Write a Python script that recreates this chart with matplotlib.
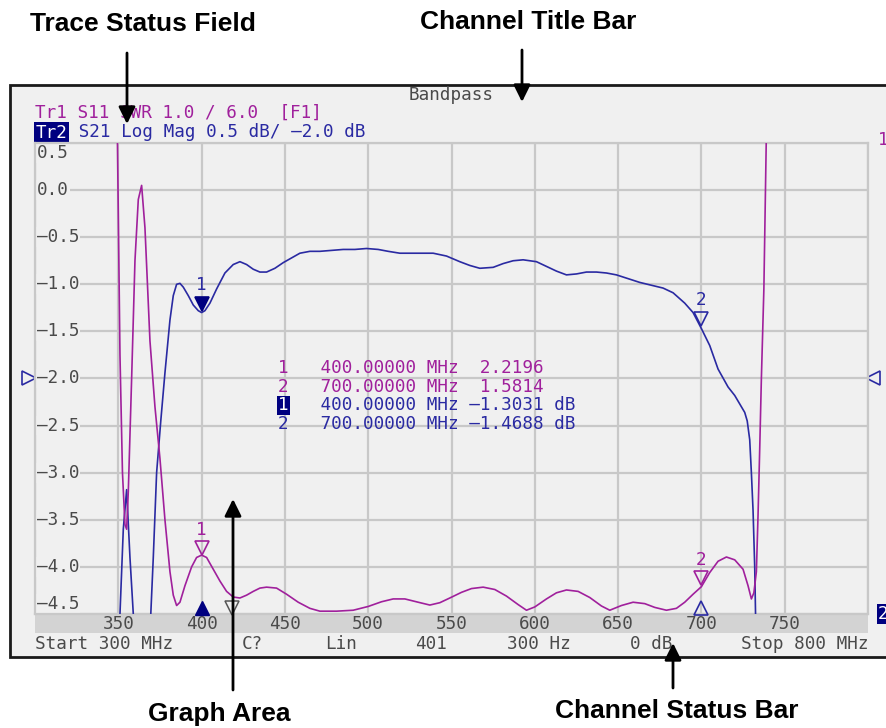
import numpy as np
import matplotlib
matplotlib.use("Agg")
import matplotlib.pyplot as plt
from matplotlib import transforms
from matplotlib.patches import Rectangle

# ---- trace data ----
s21_freq = [300, 340, 349, 351, 353, 355, 357, 359, 362, 366, 369.5, 371, 373, 375.5, 378,
            381, 383, 385, 387, 389, 392, 395, 398, 400, 402, 405, 409, 414, 419, 423, 427,
            431, 435, 439, 444, 449, 454, 459, 465, 471, 478, 485, 492, 499, 506, 512, 519,
            526, 533, 539, 547, 555, 561, 567, 575, 581, 587, 593, 601, 607, 613, 619, 625,
            631, 637, 643, 649, 656, 663, 670, 677, 683, 690, 695, 700, 705, 710, 716, 720,
            723, 726, 727.5, 729, 730, 731, 732, 733, 735, 750, 800]
s21_db = [-6.0, -6.0, -5.5, -4.5, -3.6, -3.18, -3.9, -4.5, -5.5, -5.2, -4.5, -3.9, -3.0, -2.45, -1.94,
          -1.38, -1.12, -1.0, -0.99, -1.03, -1.12, -1.22, -1.28, -1.30, -1.28, -1.20, -1.05, -0.88, -0.79, -0.76, -0.79,
          -0.84, -0.87, -0.87, -0.83, -0.77, -0.72, -0.67, -0.65, -0.65, -0.64, -0.63, -0.63, -0.62, -0.63, -0.65, -0.67,
          -0.67, -0.67, -0.67, -0.70, -0.76, -0.80, -0.83, -0.82, -0.78, -0.75, -0.74, -0.76, -0.81, -0.86, -0.90, -0.89,
          -0.87, -0.87, -0.88, -0.90, -0.94, -0.98, -1.01, -1.04, -1.09, -1.20, -1.30, -1.47, -1.65, -1.90, -2.09, -2.18,
          -2.27, -2.36, -2.45, -2.65, -3.0, -3.4, -4.0, -5.0, -6.0, -6.0, -6.0]

s11_freq = [300, 340, 348, 349.5, 351, 352.5, 354, 355, 356, 358, 360, 362, 364, 366, 369, 372,
            375, 378, 381, 383, 385, 387, 390, 394, 397, 400, 403, 407, 411, 415, 419, 423,
            427, 431, 435, 439, 445, 451, 458, 465, 471, 481, 491, 500, 508, 515, 522, 530,
            537, 543, 549, 556, 562, 569, 576, 583, 590, 595, 600, 607, 613, 619, 626, 633,
            640, 645, 652, 659, 666, 672, 679, 685, 690, 695, 700, 705, 710, 715, 720, 725,
            728, 730, 731.5, 733, 734, 735, 736, 737.5, 739, 742, 800]
s11_swr = [20, 20, 13, 11, 6.5, 4.0, 2.9, 2.8, 3.6, 6.0, 8.5, 9.8, 10.1, 9.2, 6.8, 5.4,
           4.3, 3.0, 1.9, 1.4, 1.18, 1.25, 1.6, 2.0, 2.2, 2.25, 2.2, 1.95, 1.7, 1.48, 1.36, 1.34,
           1.40, 1.48, 1.55, 1.57, 1.55, 1.42, 1.25, 1.12, 1.06, 1.06, 1.08, 1.16, 1.26, 1.32, 1.32, 1.25,
           1.19, 1.24, 1.34, 1.46, 1.54, 1.57, 1.52, 1.38, 1.20, 1.08, 1.15, 1.32, 1.45, 1.51, 1.48, 1.35,
           1.17, 1.08, 1.18, 1.25, 1.22, 1.14, 1.08, 1.12, 1.25, 1.42, 1.58, 1.88, 2.12, 2.21, 2.15, 1.95,
           1.6, 1.32, 1.45, 1.9, 3.1, 4.5, 6.0, 7.9, 11.2, 16, 20]

marker_freq = [400, 700]
s11_marker = [2.2196, 1.5814]
s21_marker = [-1.3031, -1.4688]
stim_mark = 418

x_ticks = [350, 400, 450, 500, 550, 600, 650, 700, 750]
y_ticks = [0.5, 0.0, -0.5, -1.0, -1.5, -2.0, -2.5, -3.0, -3.5, -4.0, -4.5]
ref_level = -2.0

table_rows = ["1   400.00000 MHz  2.2196",
              "2   700.00000 MHz  1.5814",
              "    400.00000 MHz -1.3031 dB",
              "2   700.00000 MHz -1.4688 dB"]

status_items = [(35, "Start 300 MHz"), (242, "C?"), (325, "Lin"), (415, "401"),
                (507, "300 Hz"), (630, "0 dB"), (741, "Stop 800 MHz")]

# ---- look ----
W, H = 886, 728
PANEL = "#f0f0f0"
GRID = "#c8c8c8"
MAG = "#a0209c"
BLUE = "#2a2aa2"
NAVY = "#000080"
GRAYTXT = "#4a4a4a"
MONO = "DejaVu Sans Mono"
FS = 12.7
CW = FS * 100 / 72 * 0.602  # char width in px
plt.rcParams["font.family"] = [MONO, "DejaVu Sans"]

fig = plt.figure(figsize=(W / 100, H / 100), dpi=100)

# background layer in pixel coordinates
bg = fig.add_axes([0, 0, 1, 1], zorder=0)
bg.set_xlim(0, W)
bg.set_ylim(H, 0)
bg.axis("off")
bg.add_patch(Rectangle((10, 85), 900, 572, facecolor=PANEL, edgecolor="#1a1a1a", lw=2))

# graph area
L, R, T, B = 35, 868, 143, 614
ax = fig.add_axes([L / W, (H - B) / H, (R - L) / W, (B - T) / H], zorder=1)
ax.set_facecolor(PANEL)
ax.set_xlim(300, 800)
ax.set_ylim(-4.5, 0.5)
ax.set_xticks(np.arange(300, 801, 50))
ax.set_yticks(y_ticks)
ax.tick_params(length=0, labelbottom=False, labelleft=False)
ax.grid(True, color=GRID, lw=1.6)
for sp in ax.spines.values():
    sp.set_color(GRID)
    sp.set_linewidth(1.6)

ax2 = ax.twinx()
ax2.set_ylim(1, 11)
ax2.set_yticks([])
for sp in ax2.spines.values():
    sp.set_visible(False)

# y tick labels inside the graph
lab_tr = transforms.blended_transform_factory(ax.transAxes, ax.transData)
for v in y_ticks:
    dy = 0
    if v == y_ticks[0]:
        dy = -10
    elif v == y_ticks[-1]:
        dy = 10
    ax.annotate(f"{v:.1f}".replace("-", "\u2013"), xy=(0, v), xycoords=lab_tr,
                xytext=(2, dy), textcoords="offset pixels", ha="left", va="center",
                fontsize=FS, color=GRAYTXT, zorder=2.5,
                bbox=dict(facecolor=PANEL, edgecolor="none", pad=0.6))

ax.plot(s21_freq, s21_db, color=BLUE, lw=1.2, zorder=3)
ax2.plot(s11_freq, s11_swr, color=MAG, lw=1.2, zorder=3)

# markers on the traces
def up(a, px):
    return transforms.offset_copy(a.transData, fig=fig, x=0, y=px, units="dots")

for i, (f, v) in enumerate(zip(marker_freq, s21_marker)):
    face = NAVY if i == 0 else "none"
    ax.plot([f], [v], marker="v", ms=10.5, mfc=face, mec=NAVY if i == 0 else BLUE, mew=1.2,
            transform=up(ax, 9), zorder=4)
    ax.annotate(str(i + 1), xy=(f, v), xytext=(0, 28), textcoords="offset pixels",
                ha="center", va="center", fontsize=FS, color=BLUE)
for i, (f, v) in enumerate(zip(marker_freq, s11_marker)):
    ax2.plot([f], [v], marker="v", ms=10.5, mfc="none", mec=MAG, mew=1.2,
             transform=up(ax2, 9), zorder=4)
    ax2.annotate(str(i + 1), xy=(f, v), xytext=(0, 27), textcoords="offset pixels",
                 ha="center", va="center", fontsize=FS, color=MAG)

# marker position indicators on the bottom edge
bot = transforms.blended_transform_factory(ax.transData, ax.transAxes)
bot_up = transforms.offset_copy(bot, fig=fig, x=0, y=6, units="dots")
ax.plot([marker_freq[0]], [0], marker="^", ms=10, mfc=NAVY, mec=NAVY, transform=bot_up,
        clip_on=False, zorder=5)
ax.plot([marker_freq[1]], [0], marker="^", ms=10, mfc="none", mec=BLUE, mew=1.2,
        transform=bot_up, clip_on=False, zorder=5)
ax.plot([stim_mark], [0], marker="v", ms=10, mfc="none", mec="#555555", mew=1.1,
        transform=bot_up, clip_on=False, zorder=5)

# x label bar
bar_tr = transforms.blended_transform_factory(ax.transAxes, bg.transData)
bg.add_patch(Rectangle((0, 614), 1, 19, transform=bar_tr, facecolor="#d3d3d3", edgecolor="none"))
xlab_tr = transforms.blended_transform_factory(ax.transData, bg.transData)
for f in x_ticks:
    bg.text(f, 624, str(f), transform=xlab_tr, ha="center", va="center",
            fontsize=FS, color=GRAYTXT)

# reference level arrows
ref_l = transforms.blended_transform_factory(bg.transData, ax.transData)
bg.plot([29], [ref_level], marker=">", ms=10, mfc="none", mec=BLUE, mew=1.2, transform=ref_l,
        clip_on=False)
bg.plot([873], [ref_level], marker="<", ms=10, mfc="none", mec=BLUE, mew=1.2, transform=ref_l,
        clip_on=False)

# header lines
bg.text(451, 95, "Bandpass", ha="center", va="center", fontsize=FS, color=GRAYTXT)
bg.text(35, 113, "Tr1 S11 SWR 1.0 / 6.0  [F1]", ha="left", va="center", fontsize=FS, color=MAG)
bg.text(36, 133, "Tr2", ha="left", va="center", fontsize=FS, color="white",
        bbox=dict(facecolor=NAVY, edgecolor="none", pad=1.2))
bg.text(36 + 3 * CW, 132, " S21 Log Mag 0.5 dB/ \u20132.0 dB", ha="left", va="center",
        fontsize=FS, color=BLUE)
bg.text(878, 140, "1", ha="left", va="center", fontsize=FS, color=MAG)
bg.text(878, 614, "2", ha="left", va="center", fontsize=FS, color="white",
        bbox=dict(facecolor=NAVY, edgecolor="none", pad=1.0))

# status bar
for x, s in status_items:
    bg.text(x, 644, s, ha="left", va="center", fontsize=FS, color=GRAYTXT)

# overlay layer: marker table and call-outs
over = fig.add_axes([0, 0, 1, 1], zorder=10)
over.set_xlim(0, W)
over.set_ylim(H, 0)
over.axis("off")

row_cols = [MAG, MAG, BLUE, BLUE]
for k, (row, c) in enumerate(zip(table_rows, row_cols)):
    over.text(278, 368 + k * 18.7, row.replace("-", "\u2013"), ha="left", va="center",
              fontsize=FS, color=c)
over.text(278, 405.5, "1", ha="left", va="center", fontsize=FS, color="white",
          bbox=dict(facecolor=NAVY, edgecolor="none", pad=0.6))

callouts = [("Trace Status Field", 30, 24, 127, 53, 124),
            ("Channel Title Bar", 420, 22, 522, 50, 102),
            ("Graph Area", 148, 714, 233, 690, 499),
            ("Channel Status Bar", 555, 711, 673, 688, 643)]
for name, tx, ty, ax_x, y0, y1 in callouts:
    over.text(tx, ty, name, ha="left", va="center", fontsize=19, fontweight="bold",
              family=["Liberation Sans", "DejaVu Sans"], color="black")
    over.annotate("", xy=(ax_x, y1), xytext=(ax_x, y0),
                  arrowprops=dict(arrowstyle="-|>,head_length=0.85,head_width=0.42", lw=2,
                                  color="black", shrinkA=0, shrinkB=0, mutation_scale=12))

fig.savefig("out.png", dpi=100, facecolor="white")
